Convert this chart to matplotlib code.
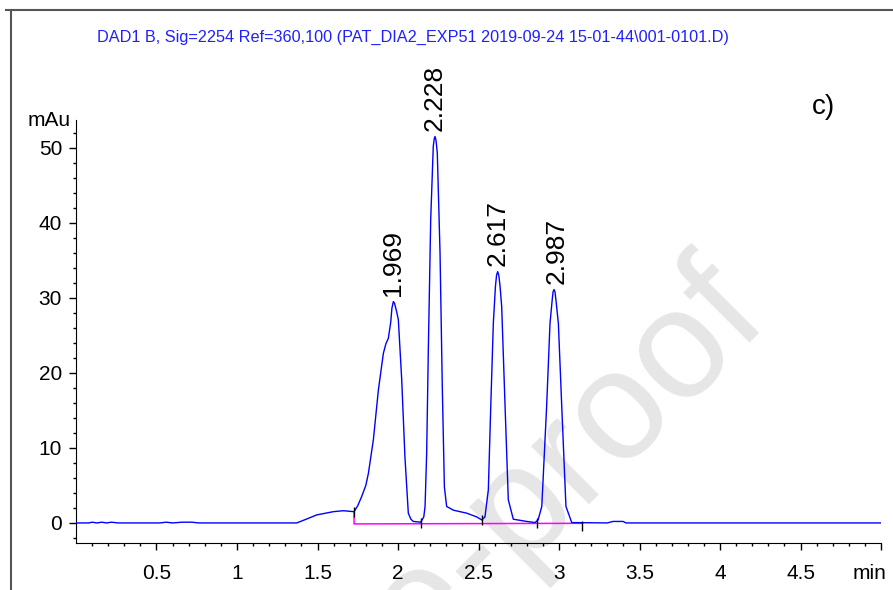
import numpy as np
import matplotlib
matplotlib.use("Agg")
import matplotlib.pyplot as plt
from matplotlib.lines import Line2D

plt.rcParams['font.family'] = ['Liberation Sans', 'DejaVu Sans']

# chromatogram trace (min, mAu)
time_min = [0.00, 0.08, 0.10, 0.13, 0.16, 0.19, 0.22, 0.26, 0.30, 0.52, 0.56, 0.60,
            0.66, 0.72, 0.76, 1.00, 1.30, 1.371, 1.43, 1.495, 1.55, 1.598, 1.660,
            1.727, 1.750, 1.774, 1.800, 1.816, 1.847, 1.878, 1.909, 1.925, 1.940,
            1.955, 1.962, 1.971, 1.978, 1.990, 2.002, 2.023, 2.043, 2.064, 2.080,
            2.095, 2.141, 2.160, 2.168, 2.178, 2.188, 2.203, 2.219, 2.225, 2.230,
            2.236, 2.244, 2.261, 2.275, 2.288, 2.302, 2.344, 2.427, 2.489, 2.520,
            2.540, 2.561, 2.576, 2.592, 2.605, 2.612, 2.619, 2.626, 2.634, 2.644,
            2.665, 2.685, 2.716, 2.799, 2.851, 2.870, 2.893, 2.923, 2.944, 2.958,
            2.963, 2.969, 2.975, 2.982, 2.996, 3.017, 3.043, 3.079, 3.300, 3.335,
            3.398, 3.416, 5.00]
signal_mau = [0.0, 0.0, 0.1, 0.0, 0.1, 0.0, 0.1, 0.0, 0.0, 0.0, 0.1, 0.0,
              0.1, 0.1, 0.0, 0.0, 0.0, 0.0, 0.5, 1.07, 1.3, 1.5, 1.63,
              1.5, 2.3, 3.5, 5.0, 6.6, 11.1, 17.7, 22.6, 23.9, 24.6,
              26.8, 28.6, 29.5, 29.3, 28.3, 27.1, 19.1, 8.8, 1.3, 0.5,
              0.2, 0.1, 0.8, 2.2, 9.3, 22.7, 40.4, 50.2, 51.2, 51.5,
              51.0, 49.3, 36.0, 18.2, 4.8, 2.2, 1.7, 1.3, 0.8, 0.4,
              0.8, 4.4, 15.5, 26.6, 31.5, 33.0, 33.5, 33.0, 31.5, 28.8,
              15.5, 3.1, 0.5, 0.2, 0.05, 0.4, 2.2, 15.5, 26.6, 29.8,
              30.8, 31.1, 30.8, 29.5, 26.6, 15.5, 2.2, 0.05, 0.0, 0.2,
              0.2, 0.0, 0.0]

# integration baseline and event marks
base_t = [1.727, 1.727, 3.145]
base_v = [1.5, -0.13, -0.05]
event_t = [1.727, 2.141, 2.520, 2.861, 3.145]
event_v = [1.5, -0.07, 0.33, 0.0, -0.36]

# peak labels
peak_rt = [1.969, 2.228, 2.617, 2.987]
peak_height = [29.5, 51.5, 33.5, 31.1]
peak_label = ["1.969", "2.228", "2.617", "2.987"]

x_ticks = [0.5, 1, 1.5, 2, 2.5, 3, 3.5, 4, 4.5]
x_tick_labels = ["0.5", "1", "1.5", "2", "2.5", "3", "3.5", "4", "4.5"]
y_ticks = [0, 10, 20, 30, 40, 50]

header = r"DAD1 B, Sig=2254 Ref=360,100 (PAT_DIA2_EXP51 2019-09-24 15-01-44\001-0101.D)"

fig = plt.figure(figsize=(8.93, 5.90), dpi=100)
ax = fig.add_axes([0.0851, 0.0797, 0.9015, 0.7169])
ax.patch.set_visible(False)

ax.plot(time_min, signal_mau, color='#0000ff', lw=1.0, zorder=3)
ax.plot(base_t, base_v, color='#ff00ff', lw=1.1, zorder=2)
ax.plot(event_t, event_v, linestyle='none', marker='|', color='black',
        markersize=7, mew=1.0, zorder=4)

for rt, h, lab in zip(peak_rt, peak_height, peak_label):
    ax.annotate(lab, xy=(rt, h), xytext=(0, 4), textcoords='offset points',
                rotation=90, ha='center', va='bottom', fontsize=19)

ax.set_xlim(0, 5)
ax.set_ylim(-2.67, 53.7)
ax.spines['top'].set_visible(False)
ax.spines['right'].set_visible(False)
ax.set_xticks(x_ticks + [5])
ax.set_xticklabels(x_tick_labels + [""])
ax.set_xticks(np.arange(0.1, 5.0, 0.1), minor=True)
ax.set_yticks(y_ticks)
ax.set_yticks(np.arange(-2, 53, 2), minor=True)
ax.tick_params(which='major', direction='out', length=5, width=1, labelsize=15)
ax.tick_params(axis='x', which='major', pad=10)
ax.tick_params(axis='y', which='major', pad=5)
ax.tick_params(which='minor', direction='out', length=2.5, width=1)

ax.annotate("min", xy=(4.93, 0), xycoords=('data', 'axes fraction'),
            xytext=(0, -15), textcoords='offset points',
            ha='center', va='top', fontsize=15)
ax.annotate("mAu", xy=(0, 1), xycoords='axes fraction',
            xytext=(-4, 0), textcoords='offset points',
            ha='right', va='center', fontsize=15)

fig.text(0.1086, 0.937, header, color='#2020ff', fontsize=11.7, va='center')
fig.text(0.9227, 0.8186, "c)", fontsize=20, ha='center', va='center')

# watermark
fig.text(0.8645, 0.454, "Journal Pre-proof", fontsize=112, color='#e6e6e6',
         rotation=45, rotation_mode='anchor', ha='right', va='baseline', zorder=-1)

# page frame
fig.add_artist(Line2D([0.007, 1.0], [0.983, 0.983], color='#555555', lw=1.5))
fig.add_artist(Line2D([0.0123, 0.0123], [0.0, 0.983], color='#555555', lw=1.5))

fig.savefig("out.png", dpi=100)
